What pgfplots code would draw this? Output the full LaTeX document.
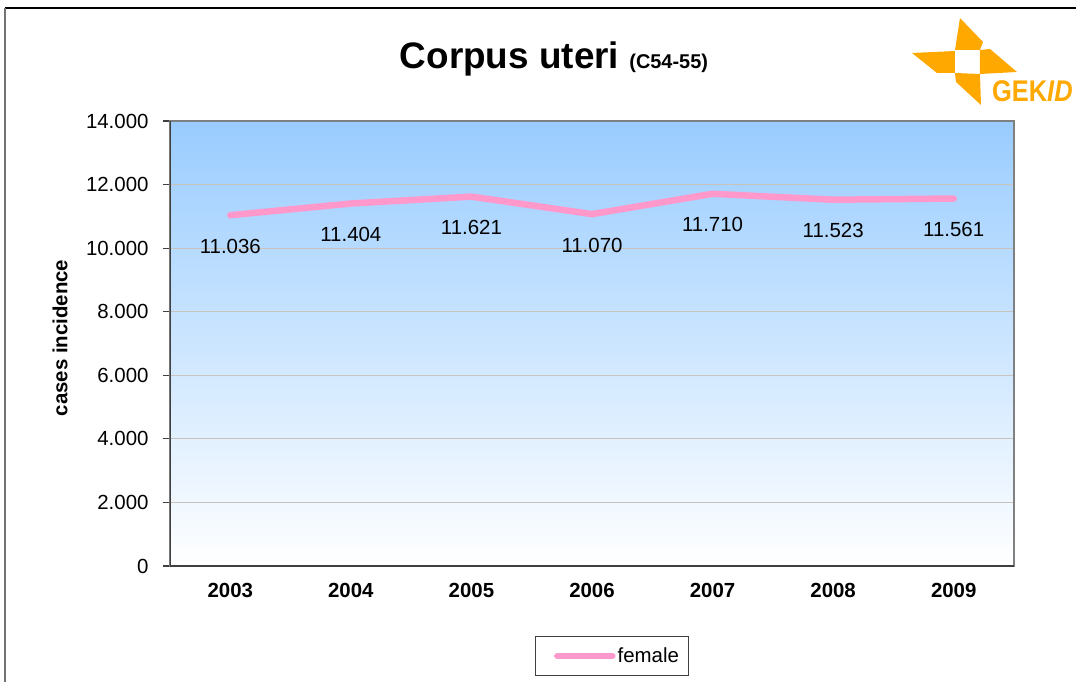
\documentclass[border=0pt]{standalone}
\usepackage{fontspec}
\setmainfont{Liberation Sans}
\usepackage{pgfplots}
\pgfplotsset{compat=1.18}
\definecolor{pinkline}{RGB}{255,153,204}
\definecolor{skytop}{RGB}{153,204,255}
\definecolor{gekid}{RGB}{255,168,0}
\definecolor{gridc}{RGB}{200,196,188}
\newcommand{\lbl}{\fontsize{20.5}{24}\selectfont}

\begin{document}
\begin{tikzpicture}
\useasboundingbox (-170bp,-116bp) rectangle (906bp,566bp);
\begin{axis}[
    width=844bp, height=445bp,
    scale only axis,
    xmin=-0.5, xmax=6.5,
    ymin=0, ymax=14000,
    xtick={0,...,6},
    xticklabels={2003,2004,2005,2006,2007,2008,2009},
    major x tick style={draw=none},
    extra x ticks={-0.5,0.5,...,6.5},
    extra x tick labels={},
    extra x tick style={grid=none, major tick length=7bp},
    ytick={0,2000,...,14000},
    scaled y ticks=false,
    tick pos=left,
    tick align=outside,
    major tick length=7bp,
    tick style={draw=black!75, line width=1.2bp},
    /pgf/number format/.cd, 1000 sep={.}, assume math mode=true,
    /pgfplots/.cd,
    ticklabel style={font=\lbl},
    xticklabel style={font=\lbl\bfseries, anchor=base, yshift=-24bp},
    yticklabel style={anchor=east, xshift=-11bp},
    ymajorgrids,
    grid style={draw=gridc, line width=0.8bp},
    axis background/.style={top color=skytop, bottom color=white},
    axis line style={draw=black!50, line width=2.5bp},
    ylabel={cases incidence},
    every axis y label/.style={at={(rel axis cs:-0.1303,0.5124)}, rotate=90, anchor=center, font=\lbl\bfseries},
    nodes near coords,
    nodes near coords style={font=\lbl, text=black, anchor=center, yshift=-31bp},
    legend style={at={(rel axis cs:0.5237,-0.2022)}, anchor=center, draw=black!75, line width=1bp, font=\lbl, inner xsep=8bp, inner ysep=9bp},
    legend image code/.code={\path (0bp,0bp); \draw[#1, line cap=round] (11bp,0bp) -- (66bp,0bp);},
]
\addplot[draw=pinkline, line width=6.5bp, line cap=round, line join=round] coordinates {
    (0,11036) (1,11404) (2,11621) (3,11070) (4,11710) (5,11523) (6,11561)
};
\addlegendentry{female}
\draw[black!75, line width=2.5bp] (rel axis cs:0,1) -- (rel axis cs:0,0) -- (rel axis cs:1,0);
\end{axis}
\begin{scope}[shift={(-170bp,566bp)}, x=1bp, y=-1bp]
  % outer frame
  \draw[black, line width=1.5bp] (5,8) -- (1076,8);
  \draw[black!55, line width=2bp] (5,8) -- (5,682);
  % title
  \node[anchor=base] at (554,69) {\fontsize{37}{40}\selectfont\bfseries Corpus uteri {\fontsize{20}{22}\selectfont (C54-55)}};
  % logo
  \fill[gekid] (960,18) -- (983,42) -- (980,50) -- (955,50) -- cycle;
  \fill[gekid] (912,53) -- (955,51) -- (955,73) -- (937,73) -- cycle;
  \fill[gekid] (980,50) -- (990,49) -- (1017,72) -- (980,74) -- cycle;
  \fill[gekid] (955,73) -- (980,74) -- (981,105) -- (956,82) -- cycle;
  \node[anchor=base west, inner sep=0, text=gekid, xscale=0.85] at (992,102) {\fontsize{30}{32}\selectfont\bfseries GEK\itshape ID};
\end{scope}
\end{tikzpicture}
\end{document}
